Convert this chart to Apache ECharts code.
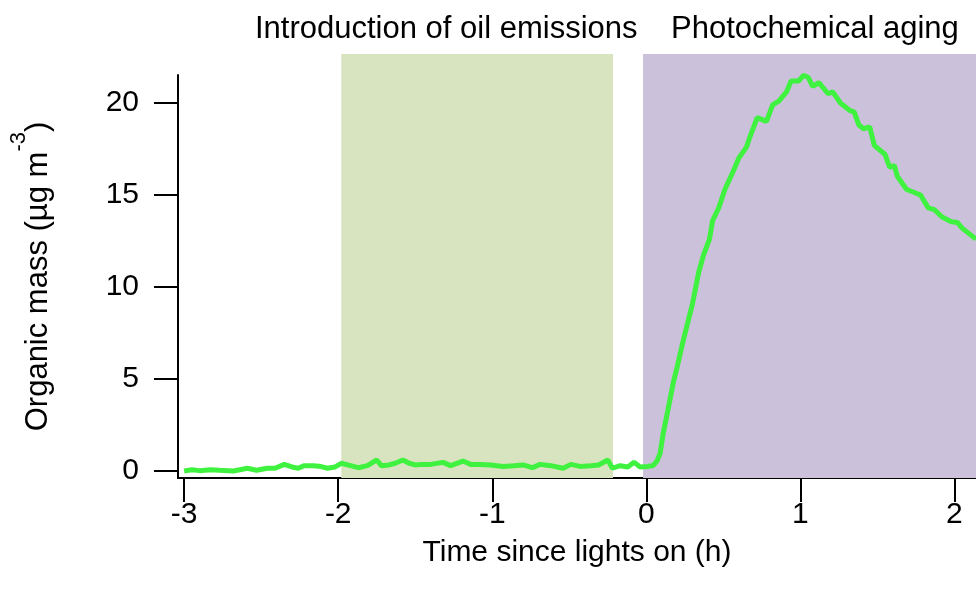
<!DOCTYPE html>
<html>
<head>
<meta charset="utf-8">
<script src="https://cdn.jsdelivr.net/npm/echarts@6/dist/echarts.min.js"></script>
<style>
  html, body { margin: 0; padding: 0; background: #fff; }
  #chart { width: 976px; height: 596px; }
</style>
</head>
<body>
<div id="chart"></div>
<script>
// time since lights on (h) and organic mass (ug m-3)
var timeH = [
  -3.00, -2.95, -2.90, -2.83, -2.77, -2.68, -2.59, -2.53, -2.46, -2.41,
  -2.35, -2.30, -2.26, -2.22, -2.16, -2.11, -2.07, -2.02, -1.98, -1.92,
  -1.87, -1.81, -1.75, -1.72, -1.67, -1.63, -1.58, -1.54, -1.50, -1.46,
  -1.40, -1.32, -1.27, -1.19, -1.14, -1.08, -1.01, -0.93, -0.86, -0.80,
  -0.74, -0.69, -0.62, -0.54, -0.49, -0.43, -0.36, -0.31, -0.25, -0.22,
  -0.17, -0.12, -0.08, -0.04, 0.01, 0.045, 0.07, 0.09, 0.11, 0.14,
  0.175, 0.20, 0.24, 0.30, 0.34, 0.37, 0.41, 0.43, 0.47, 0.51,
  0.57, 0.60, 0.65, 0.67, 0.72, 0.78, 0.82, 0.86, 0.91, 0.94,
  0.99, 1.02, 1.05, 1.08, 1.12, 1.18, 1.21, 1.26, 1.32, 1.35,
  1.38, 1.41, 1.45, 1.48, 1.55, 1.58, 1.61, 1.63, 1.69, 1.72,
  1.78, 1.83, 1.87, 1.92, 1.98, 2.02, 2.05, 2.14
];
var organicMass = [
  0.00, 0.07, 0.02, 0.07, 0.04, 0.00, 0.15, 0.04, 0.15, 0.15,
  0.36, 0.22, 0.15, 0.29, 0.29, 0.24, 0.15, 0.22, 0.42, 0.29,
  0.18, 0.29, 0.60, 0.29, 0.33, 0.42, 0.60, 0.42, 0.33, 0.36,
  0.36, 0.47, 0.29, 0.54, 0.36, 0.36, 0.33, 0.25, 0.29, 0.33,
  0.18, 0.36, 0.29, 0.15, 0.36, 0.25, 0.29, 0.33, 0.60, 0.15,
  0.29, 0.22, 0.47, 0.22, 0.25, 0.30, 0.55, 0.98, 2.07, 3.3,
  4.8, 5.65, 7.1, 9.1, 10.8, 11.7, 12.6, 13.6, 14.3, 15.3,
  16.4, 17.0, 17.6, 18.1, 19.2, 19.0, 19.9, 20.1, 20.6, 21.2,
  21.2, 21.5, 21.4, 20.9, 21.1, 20.5, 20.6, 20.0, 19.6, 19.5,
  18.8, 18.6, 18.7, 17.7, 17.2, 16.5, 16.6, 16.0, 15.3, 15.2,
  15.0, 14.3, 14.2, 13.8, 13.55, 13.5, 13.2, 12.6
];
var xTicks = [-3, -2, -1, 0, 1, 2];
var yTicks = [0, 5, 10, 15, 20];
var bandNames = ['Introduction of oil emissions', 'Photochemical aging'];
var bandStart = [-1.97, -0.016];
var bandEnd = [-0.21, 2.2];
var bandColors = ['#d8e3bf', '#cbc1da'];

var FONT = 'Liberation Sans, Arial, sans-serif';
var chart = echarts.init(document.getElementById('chart'));

var lineData = timeH.map(function (t, i) { return [t, organicMass[i]]; });
var bands = bandStart.map(function (s, i) {
  return [{ xAxis: s, itemStyle: { color: bandColors[i] } }, { xAxis: bandEnd[i] }];
});

var option = {
  animation: false,
  textStyle: { fontFamily: FONT },
  title: [
    { text: bandNames[0], left: 250, top: 9,
      textStyle: { fontFamily: FONT, fontSize: 31, fontWeight: 'normal', color: '#000' } },
    { text: bandNames[1], left: 666, top: 9,
      textStyle: { fontFamily: FONT, fontSize: 31, fontWeight: 'normal', color: '#000' } }
  ],
  grid: [
    { left: 176, right: 0, top: 75, bottom: 118 },
    { left: 176, right: 0, top: 54, bottom: 118 }
  ],
  xAxis: [
    {
      type: 'value', gridIndex: 0, min: -3.04, max: 2.14,
      name: 'Time since lights on (h)', nameLocation: 'middle', nameGap: 60,
      nameTextStyle: { fontFamily: FONT, fontSize: 30, color: '#000' },
      axisLine: { onZero: false, lineStyle: { color: '#000', width: 2 } },
      axisTick: { customValues: xTicks, length: 24, lineStyle: { color: '#000', width: 2 } },
      axisLabel: { customValues: xTicks, margin: 22, fontFamily: FONT, fontSize: 30, color: '#000' },
      splitLine: { show: false }
    },
    { type: 'value', gridIndex: 1, min: -3.04, max: 2.14, show: false }
  ],
  yAxis: [
    {
      type: 'value', gridIndex: 0, min: -0.38, max: 21.52,
      name: '{a|Organic mass (µg m}{sup|-3}{a|)}', nameLocation: 'middle', nameGap: 124,
      nameRotate: 90,
      nameTextStyle: {
        rich: {
          a: { fontFamily: FONT, fontSize: 31, color: '#000', lineHeight: 46, verticalAlign: 'bottom' },
          sup: { fontFamily: FONT, fontSize: 22, color: '#000', lineHeight: 46, verticalAlign: 'top' }
        }
      },
      axisLine: { onZero: false, lineStyle: { color: '#000', width: 2 } },
      axisTick: { customValues: yTicks, length: 24, lineStyle: { color: '#000', width: 2 } },
      axisLabel: { customValues: yTicks, margin: 39, fontFamily: FONT, fontSize: 30, color: '#000' },
      splitLine: { show: false }
    },
    { type: 'value', gridIndex: 1, min: 0, max: 1, show: false }
  ],
  series: [
    {
      type: 'line', xAxisIndex: 1, yAxisIndex: 1, z: 1,
      data: [], symbol: 'none',
      markArea: { silent: true, data: bands }
    },
    {
      type: 'line', xAxisIndex: 0, yAxisIndex: 0, z: 3,
      data: lineData, symbol: 'none',
      lineStyle: { color: '#3ff23f', width: 5 }
    }
  ]
};
chart.setOption(option);
</script>
</body>
</html>
